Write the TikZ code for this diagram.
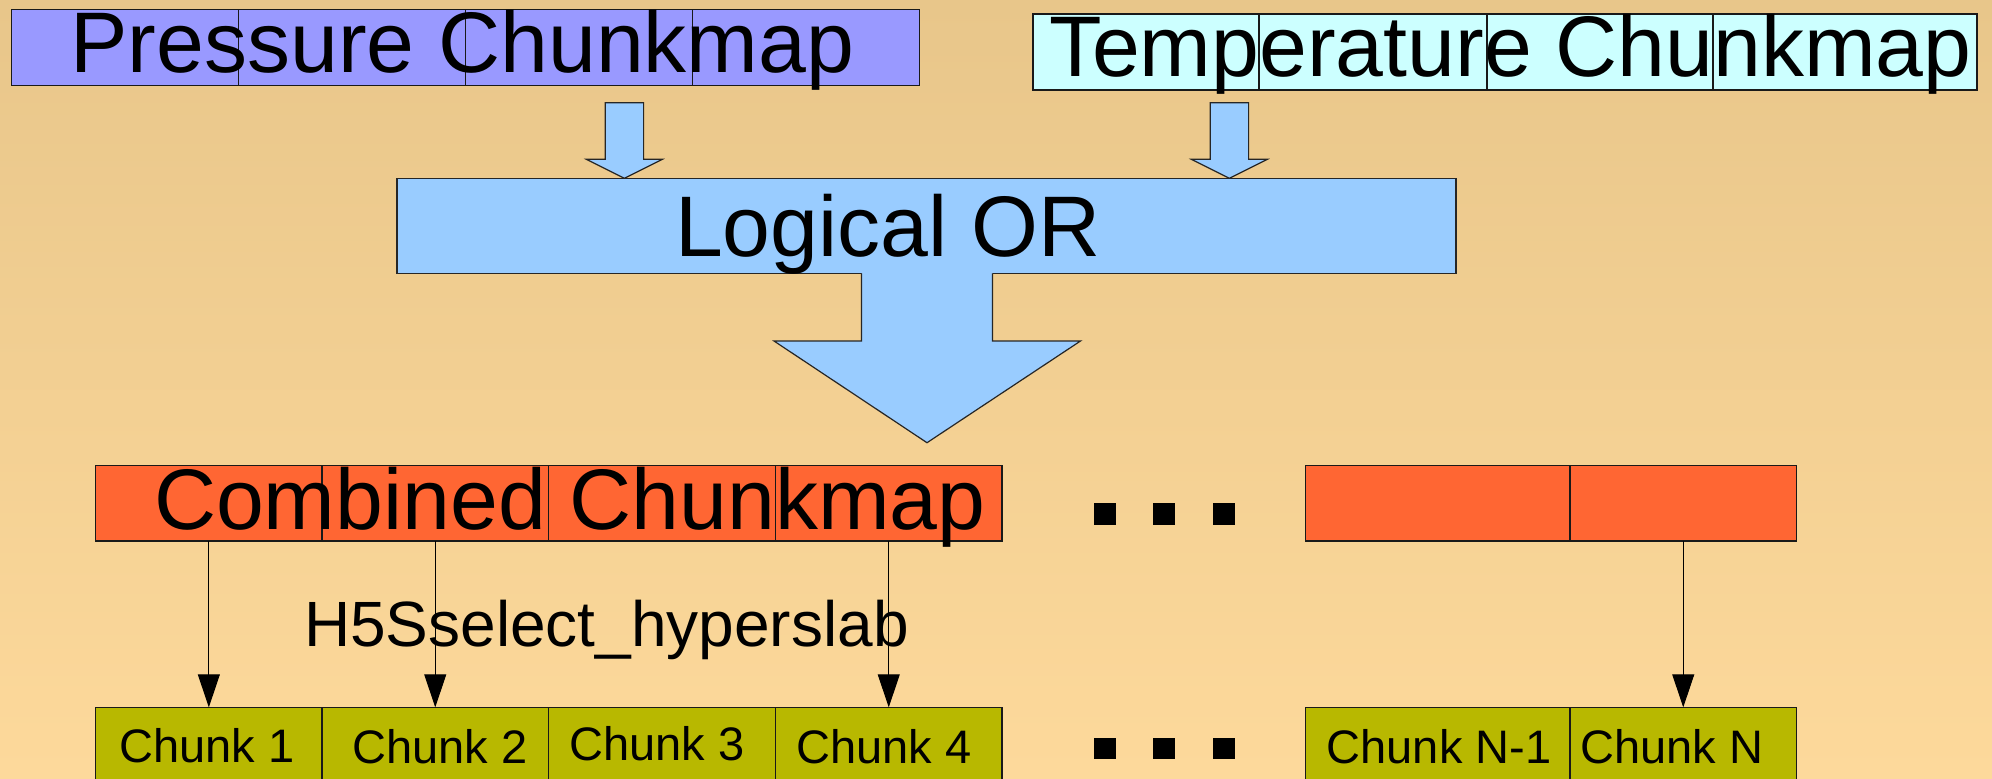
\documentclass[tikz,border=0pt]{standalone}
\usepackage{fontspec}
\setmainfont{Liberation Sans}
\usetikzlibrary{arrows.meta}

\definecolor{bgtop}{RGB}{232,198,138}
\definecolor{bgbot}{RGB}{253,217,155}
\definecolor{pressfill}{RGB}{153,153,255}
\definecolor{tempfill}{RGB}{204,255,255}
\definecolor{orfill}{RGB}{153,204,255}
\definecolor{combfill}{RGB}{255,102,51}
\definecolor{chunkfill}{RGB}{184,184,0}

\tikzset{
  cell/.style={draw=black!90, line width=0.7pt, rectangle, inner sep=0pt, outer sep=0pt},
  bigtext/.style={font=\fontsize{43}{50}\selectfont, inner sep=0pt, outer sep=0pt, anchor=base west},
  midtext/.style={font=\fontsize{32}{38}\selectfont, inner sep=0pt, outer sep=0pt, anchor=base west},
  chunktext/.style={font=\fontsize{23.5}{28}\selectfont, inner sep=0pt, outer sep=0pt, anchor=base},
  blockarrow/.style={fill=orfill},
  blockedge/.style={draw=black!85, line width=0.6pt, line join=miter},
  selectarrow/.style={draw=black, line width=0.5pt, -{Triangle[length=16.5pt,width=11pt]}},
  dotmark/.style={fill=black},
}

% a cell of a chunk map: name, left, top, right, bottom (pixels), fill
\newcommand\cellbox[6]{%
  \pgfmathsetmacro\cbx{(#2+#4)/2}\pgfmathsetmacro\cby{(#3+#5)/2}%
  \pgfmathsetmacro\cbw{(#4-#2)*0.5}\pgfmathsetmacro\cbh{(#5-#3)*0.5}%
  \node[cell, fill=#6, minimum width=\cbw pt, minimum height=\cbh pt] (#1) at (\cbx,\cby) {};}

\begin{document}
\begin{tikzpicture}[x=0.5pt, y=-0.5pt]
  \useasboundingbox (0,0) rectangle (1992,778);
  \clip (0,0) rectangle (1992,778);
  \shade[top color=bgtop, bottom color=bgbot] (0,0) rectangle (1992,778);

  % pressure chunk map
  \cellbox{p1}{11.5}{9.3}{238.5}{85.7}{pressfill}
  \cellbox{p2}{238.5}{9.3}{465.6}{85.7}{pressfill}
  \cellbox{p3}{465.6}{9.3}{692.6}{85.7}{pressfill}
  \cellbox{p4}{692.6}{9.3}{919.6}{85.7}{pressfill}
  \node[bigtext] (ptext) at (70.5,72) {Pressure Chunkmap};

  % temperature chunk map
  \cellbox{t1}{1033}{14}{1259}{90}{tempfill}
  \cellbox{t2}{1259}{14}{1487}{90}{tempfill}
  \cellbox{t3}{1487}{14}{1713}{90}{tempfill}
  \cellbox{t4}{1713}{14}{1977}{90}{tempfill}
  \node[bigtext] (ttext) at (1049,76) {Temperature Chunkmap};

  % logical OR box
  \node[cell, draw=black!85, fill=orfill, minimum width=529.5pt, minimum height=47.5pt] (or) at (926.5,225.8) {};

  % small block arrows into the OR box
  \coordinate (la) at (624.4,178.3);
  \coordinate (ra) at (1229.4,178.3);
  \foreach \a in {la,ra} {
    \path[blockarrow, blockedge] ([shift={(-19.2,-75.6)}]\a) -- ([shift={(19.2,-75.6)}]\a)
      -- ([shift={(19.2,-19)}]\a) -- ([shift={(38,-19)}]\a) -- (\a)
      -- ([shift={(-38,-19)}]\a) -- ([shift={(-19.2,-19)}]\a) -- cycle;
  }

  % large block arrow out of the OR box
  \coordinate (ba) at (927,442.7);
  \fill[orfill] ([shift={(-65.5,-171)}]ba) -- ([shift={(65.5,-171)}]ba)
      -- ([shift={(65.5,-101.7)}]ba) -- ([shift={(153.5,-101.7)}]ba) -- (ba)
      -- ([shift={(-153,-101.7)}]ba) -- ([shift={(-65.5,-101.7)}]ba) -- cycle;
  \draw[blockedge] ([shift={(-65.5,-169.4)}]ba) -- ([shift={(-65.5,-101.7)}]ba)
      -- ([shift={(-153,-101.7)}]ba) -- (ba) -- ([shift={(153.5,-101.7)}]ba)
      -- ([shift={(65.5,-101.7)}]ba) -- ([shift={(65.5,-169.4)}]ba);
  \node[bigtext] (ortext) at (675,256) {Logical OR};

  % combined chunk map
  \cellbox{c1}{95.7}{465.3}{322}{541}{combfill}
  \cellbox{c2}{322}{465.3}{548.5}{541}{combfill}
  \cellbox{c3}{548.5}{465.3}{775.5}{541}{combfill}
  \cellbox{c4}{775.5}{465.3}{1002}{541}{combfill}
  \cellbox{cm}{1305.6}{465.3}{1570}{541}{combfill}
  \cellbox{cn}{1570}{465.3}{1796.5}{541}{combfill}
  \node[bigtext] (ctext) at (154,529) {Combined Chunkmap};

  % chunks of the dataset
  \cellbox{k1}{95.7}{707.3}{322}{800}{chunkfill}
  \cellbox{k2}{322}{707.3}{548.5}{800}{chunkfill}
  \cellbox{k3}{548.5}{707.3}{775.5}{800}{chunkfill}
  \cellbox{k4}{775.5}{707.3}{1002}{800}{chunkfill}
  \cellbox{km}{1305.6}{707.3}{1570}{800}{chunkfill}
  \cellbox{kn}{1570}{707.3}{1796.5}{800}{chunkfill}
  \node[chunktext] (k1t) at (207,762) {Chunk 1};
  \node[chunktext] (k2t) at (440,763) {Chunk 2};
  \node[chunktext] (k3t) at (657,760) {Chunk 3};
  \node[chunktext] (k4t) at (884,763) {Chunk 4};
  \node[chunktext] (kmt) at (1439,763) {Chunk N-1};
  \node[chunktext] (knt) at (1672,763) {Chunk N};

  % ellipses between the groups
  \foreach \dx in {1094,1153,1212.6} {
    \fill[dotmark] (\dx,503) rectangle ++(22,21.7);
    \fill[dotmark] (\dx,738) rectangle ++(22,21);
  }

  % hyperslab selection arrows
  \draw[selectarrow] (c1.south) -- (k1.north);
  \draw[selectarrow] (c2.south) -- (k2.north);
  \draw[selectarrow] (c4.south) -- (k4.north);
  \draw[selectarrow] (cn.south) -- (kn.north);
  \node[midtext] (sel) at (304,646) {H5Sselect\_hyperslab};
\end{tikzpicture}
\end{document}
